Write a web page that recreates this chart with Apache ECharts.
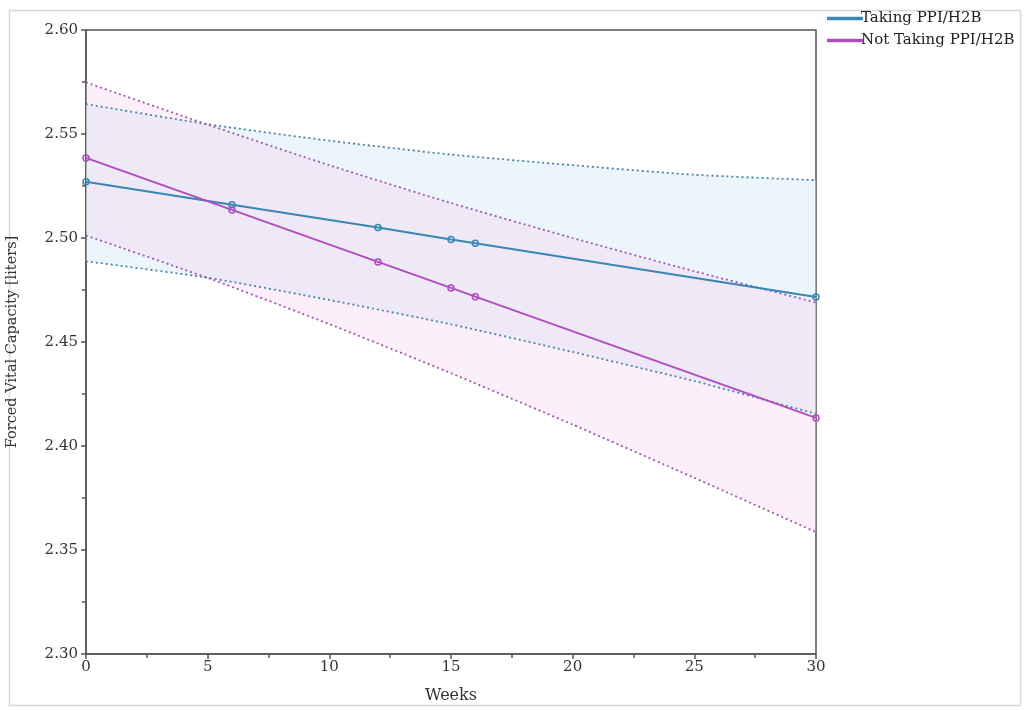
<!DOCTYPE html>
<html>
<head>
<meta charset="utf-8">
<script src="https://cdn.jsdelivr.net/npm/echarts@6/dist/echarts.min.js"></script>
<style>
  html, body { margin: 0; padding: 0; background: #fff; }
  #chart { width: 1024px; height: 710px; }
</style>
</head>
<body>
<div id="chart"></div>
<script>
// observed weeks and fitted values
var weeks = [0, 6, 12, 15, 16, 30];
var takingFit = [2.527, 2.516, 2.505, 2.4993, 2.4975, 2.4716];
var notTakingFit = [2.5385, 2.5135, 2.4885, 2.476, 2.4718, 2.4135];

// confidence band, read at these weeks
var bandWeeks = [0, 5, 10, 15, 20, 25, 30];
var takingUpper = [2.5644, 2.5547, 2.5468, 2.5401, 2.5350, 2.5304, 2.5278];
var takingLower = [2.4888, 2.4809, 2.4702, 2.4585, 2.4452, 2.4312, 2.4155];
var notTakingUpper = [2.5748, 2.5545, 2.5350, 2.5168, 2.5000, 2.4840, 2.4690];
var notTakingLower = [2.5012, 2.4808, 2.4586, 2.4350, 2.4103, 2.3847, 2.3586];

var blue = '#3a86b4';
var magenta = '#b14cc0';

function pairs(xs, ys) {
  return xs.map(function (x, i) { return [x, ys[i]]; });
}

// filled band between upper and lower, drawn once through the axis scales
function bandSeries(upper, lower, lineColor, fillColor) {
  return [
    {
      type: 'custom', silent: true, z: 1,
      data: pairs(bandWeeks, upper),
      renderItem: function (params, api) {
        if (params.dataIndex !== 0) return null;
        var pts = [];
        bandWeeks.forEach(function (w, i) { pts.push(api.coord([w, upper[i]])); });
        for (var i = bandWeeks.length - 1; i >= 0; i--) pts.push(api.coord([bandWeeks[i], lower[i]]));
        return { type: 'polygon', shape: { points: pts }, style: { fill: fillColor } };
      }
    },
    {
      type: 'line', data: pairs(bandWeeks, upper), smooth: 0.2, symbol: 'none',
      lineStyle: { color: lineColor, width: 1.8, type: [2, 3] }, silent: true, z: 2
    },
    {
      type: 'line', data: pairs(bandWeeks, lower), smooth: 0.2, symbol: 'none',
      lineStyle: { color: lineColor, width: 1.8, type: [2, 3] }, silent: true, z: 2
    }
  ];
}

var chart = echarts.init(document.getElementById('chart'));
var font = 'DejaVu Serif';

var option = {
  backgroundColor: '#fff',
  animation: false,
  graphic: [{
    type: 'rect', left: 7, top: 8,
    shape: { width: 1011, height: 695 },
    style: { fill: 'none', stroke: '#d8d8d8', lineWidth: 1.5 }
  }],
  legend: {
    orient: 'vertical', left: 822, top: 6, itemGap: 7,
    itemWidth: 34, itemHeight: 1.5, icon: 'rect',
    data: ['Taking PPI/H2B', 'Not Taking PPI/H2B'],
    textStyle: { fontFamily: font, fontSize: 15, color: '#222', padding: [0, 0, 0, -6] }
  },
  grid: {
    left: 86, right: 208, top: 30, bottom: 56, outerBoundsMode: 'none',
    show: true, borderColor: '#555', borderWidth: 1.5, backgroundColor: 'transparent'
  },
  xAxis: {
    type: 'value', min: 0, max: 30, interval: 5,
    name: 'Weeks', nameLocation: 'middle', nameGap: 34,
    nameTextStyle: { fontFamily: font, fontSize: 16, color: '#333' },
    axisLine: { lineStyle: { color: '#555', width: 1.5 } },
    axisTick: { show: true, length: 5, lineStyle: { color: '#555', width: 1.5 } },
    minorTick: { show: true, splitNumber: 2, length: 4, lineStyle: { color: '#555', width: 1.5 } },
    splitLine: { show: false },
    axisLabel: { fontFamily: font, fontSize: 15, color: '#333', margin: 6 }
  },
  yAxis: {
    type: 'value', min: 2.3, max: 2.6, interval: 0.05,
    name: 'Forced Vital Capacity [liters]', nameLocation: 'middle', nameGap: 66,
    nameTextStyle: { fontFamily: font, fontSize: 14.5, color: '#333' },
    axisLine: { show: true, lineStyle: { color: '#555', width: 1.5 } },
    axisTick: { show: true, length: 5, lineStyle: { color: '#555', width: 1.5 } },
    minorTick: { show: true, splitNumber: 2, length: 4, lineStyle: { color: '#555', width: 1.5 } },
    splitLine: { show: false },
    axisLabel: {
      fontFamily: font, fontSize: 15, color: '#333', margin: 8,
      formatter: function (v) { return v.toFixed(2); }
    }
  },
  series: []
    .concat(bandSeries(takingUpper, takingLower, '#4a85a6', 'rgba(208,230,246,0.42)'))
    .concat(bandSeries(notTakingUpper, notTakingLower, '#9e58aa', 'rgba(246,210,240,0.36)'))
    .concat([
      {
        name: 'Taking PPI/H2B', type: 'line', data: pairs(weeks, takingFit),
        color: blue, symbol: 'circle', symbolSize: 6,
        itemStyle: { color: 'rgba(255,255,255,0)', borderColor: blue, borderWidth: 1.5 },
        lineStyle: { color: blue, width: 2 }, z: 5
      },
      {
        name: 'Not Taking PPI/H2B', type: 'line', data: pairs(weeks, notTakingFit),
        color: magenta, symbol: 'circle', symbolSize: 6,
        itemStyle: { color: 'rgba(255,255,255,0)', borderColor: magenta, borderWidth: 1.5 },
        lineStyle: { color: magenta, width: 2 }, z: 5
      }
    ])
};

chart.setOption(option);
</script>
</body>
</html>
